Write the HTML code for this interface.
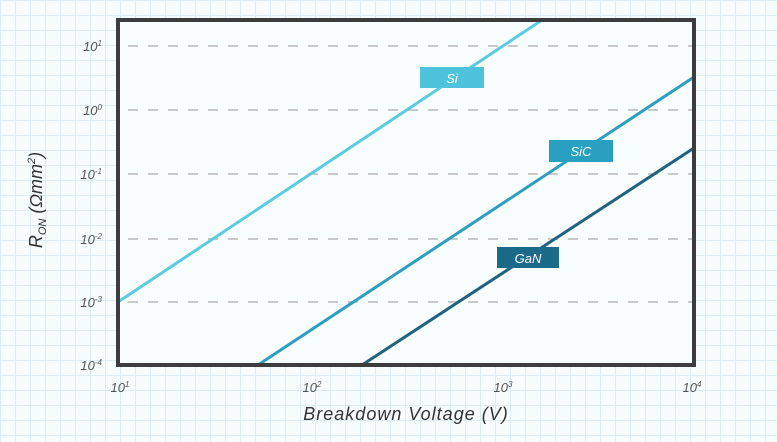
<!DOCTYPE html>
<html><head><meta charset="utf-8"><style>
html,body{margin:0;padding:0}
body{width:777px;height:442px;overflow:hidden;background-color:#f7fcfd;
background-image:linear-gradient(#dcedf2 1px,transparent 1px),linear-gradient(90deg,#dcedf2 1px,transparent 1px);
background-size:15px 15px;font-family:"Liberation Sans",sans-serif}
</style></head><body>
<svg width="777" height="442" style="position:absolute;left:0;top:0" font-family="Liberation Sans, sans-serif">
<rect x="118" y="20" width="576" height="345" fill="#f8fdfe"/>
<g stroke="#c8c8c8" stroke-width="2" stroke-dasharray="10,10">
<line x1="128" y1="46" x2="694" y2="46"/><line x1="128" y1="110" x2="694" y2="110"/>
<line x1="128" y1="174" x2="694" y2="174"/><line x1="128" y1="239" x2="694" y2="239"/>
<line x1="128" y1="302" x2="694" y2="302"/>
</g>
<line x1="118" y1="302" x2="542" y2="20" stroke="#5ccbe0" stroke-width="3"/>
<line x1="258" y1="365" x2="694" y2="77" stroke="#2e9ec0" stroke-width="3"/>
<line x1="362" y1="365" x2="694" y2="148" stroke="#23627e" stroke-width="3"/>
<rect x="118" y="20" width="576" height="345" fill="none" stroke="#3d3d3d" stroke-width="4"/>
<rect x="420" y="67" width="64" height="21" fill="#4fc3dc"/>
<text x="452" y="83" fill="#fff" font-size="13" font-style="italic" text-anchor="middle">Si</text>
<rect x="549" y="140" width="64" height="22" fill="#2aa0c0"/>
<text x="581" y="156" fill="#fff" font-size="13" font-style="italic" text-anchor="middle">SiC</text>
<rect x="497" y="247" width="62" height="21" fill="#1b6a8a"/>
<text x="528" y="263" fill="#fff" font-size="13" font-style="italic" text-anchor="middle">GaN</text>
<g fill="#555" font-size="13" font-style="italic" text-anchor="end">
<text x="102" y="51">10<tspan font-size="8" dy="-5">1</tspan></text>
<text x="102" y="115">10<tspan font-size="8" dy="-5">0</tspan></text>
<text x="102" y="179">10<tspan font-size="8" dy="-5">-1</tspan></text>
<text x="102" y="244">10<tspan font-size="8" dy="-5">-2</tspan></text>
<text x="102" y="307">10<tspan font-size="8" dy="-5">-3</tspan></text>
<text x="102" y="370">10<tspan font-size="8" dy="-5">-4</tspan></text>
</g>
<g fill="#555" font-size="13" font-style="italic" text-anchor="middle">
<text x="120" y="392">10<tspan font-size="8" dy="-5">1</tspan></text>
<text x="312" y="392">10<tspan font-size="8" dy="-5">2</tspan></text>
<text x="503" y="392">10<tspan font-size="8" dy="-5">3</tspan></text>
<text x="692" y="392">10<tspan font-size="8" dy="-5">4</tspan></text>
</g>
<text x="406" y="420" fill="#333" font-size="18" text-anchor="middle" font-style="italic" letter-spacing="1">Breakdown Voltage (V)</text>
<text transform="translate(42,200) rotate(-90)" fill="#333" font-size="18" text-anchor="middle" font-style="italic">R<tspan font-size="11" dy="4">ON</tspan><tspan dy="-4"> (Ωmm</tspan><tspan font-size="11" dy="-7">2</tspan><tspan dy="7">)</tspan></text>
</svg>
</body></html>
